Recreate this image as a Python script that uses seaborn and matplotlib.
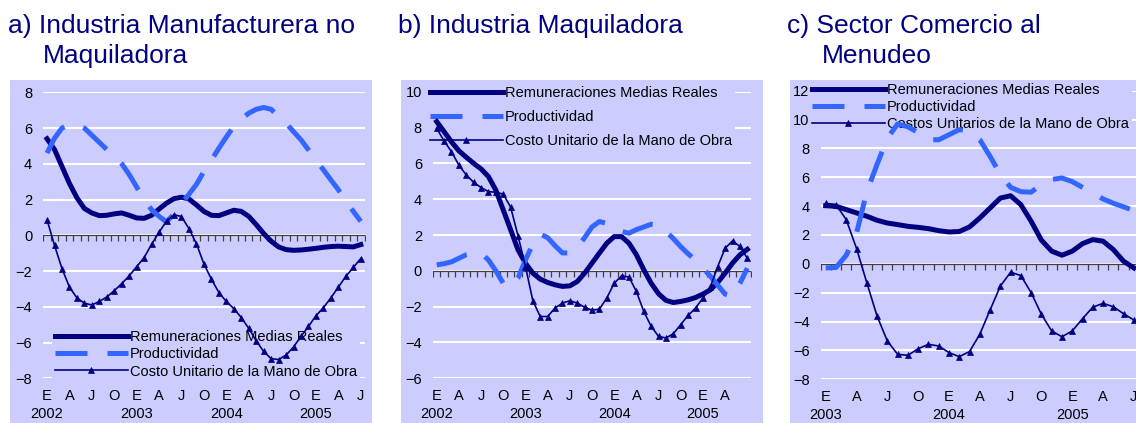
import pandas as pd
import seaborn as sns
import matplotlib.pyplot as plt
from matplotlib.patches import Rectangle

plt.rcParams['font.family'] = ['Liberation Sans', 'DejaVu Sans']

W, H = 1136, 423
navy = '#000080'
blue = '#3366FF'
lav = '#CCCCFF'

meses = ['E', 'A', 'J', 'O']

# a) Industria Manufacturera no Maquiladora, ene 2002 - jul 2005
remun_a = [5.4, 4.8, 3.85, 2.9, 2.1, 1.5, 1.25, 1.1, 1.12, 1.2, 1.25, 1.12, 0.97, 0.95, 1.12,
           1.47, 1.8, 2.05, 2.13, 2.03, 1.7, 1.34, 1.12, 1.1, 1.25, 1.4, 1.34, 1.06, 0.6, 0.1,
           -0.33, -0.65, -0.8, -0.84, -0.82, -0.78, -0.73, -0.67, -0.63, -0.61, -0.63, -0.65, -0.52]
prod_a = [4.6, 5.43, 6.0, 6.2, 6.2, 6.0, 5.6, 5.2, 4.8, 4.45, 4.0, 3.4, 2.7, 2.0, 1.43,
          1.06, 0.75, 1.2, 1.75, 2.3, 2.85, 3.57, 4.2, 4.87, 5.5, 6.1, 6.5, 6.83, 7.05, 7.15,
          7.05, 6.64, 6.27, 5.8, 5.34, 4.78, 4.22, 3.66, 3.1, 2.55, 1.9, 1.34, 0.78]
cumo_a = [0.87, -0.56, -1.86, -2.9, -3.5, -3.8, -3.9, -3.7, -3.45, -3.1, -2.7, -2.27, -1.75,
          -1.25, -0.5, 0.17, 0.8, 1.15, 1.05, 0.37, -0.47, -1.6, -2.45, -3.2, -3.7, -4.1, -4.6,
          -5.2, -5.9, -6.5, -6.9, -6.95, -6.7, -6.25, -5.65, -5.1, -4.5, -4.05, -3.5, -2.9,
          -2.3, -1.8, -1.3]

# b) Industria Maquiladora, ene 2002 - jul 2005
remun_b = [8.33, 7.77, 7.2, 6.7, 6.34, 6.0, 5.69, 5.26, 4.5, 3.4, 2.29, 1.17, 0.43, -0.13,
           -0.46, -0.65, -0.78, -0.87, -0.84, -0.6, -0.13, 0.43, 0.99, 1.54, 1.91, 1.91, 1.54,
           0.9, 0.06, -0.69, -1.28, -1.65, -1.77, -1.71, -1.62, -1.49, -1.3, -1.06, -0.65,
           -0.13, 0.43, 0.89, 1.2]
prod_b = [0.33, 0.4, 0.5, 0.7, 0.9, 1.0, 1.0, 0.6, 0.0, -0.7, -0.9, -0.4, 0.6, 1.5, 2.05,
          1.85, 1.4, 1.0, 1.0, 1.3, 1.85, 2.45, 2.75, 2.65, 2.5, 2.2, 2.1, 2.3, 2.45, 2.6,
          2.56, 2.2, 1.8, 1.35, 0.95, 0.6, 0.15, -0.3, -0.8, -1.3, -1.4, -0.7, 0.15]
cumo_b = [7.95, 7.25, 6.65, 5.9, 5.35, 4.94, 4.65, 4.42, 4.39, 4.28, 3.55, 1.95, 0.24, -1.67,
          -2.55, -2.55, -2.08, -1.8, -1.67, -1.8, -2.03, -2.2, -2.14, -1.52, -0.69, -0.28,
          -0.35, -1.15, -2.27, -3.1, -3.66, -3.75, -3.51, -3.0, -2.49, -2.08, -1.52, -0.91,
          0.24, 1.26, 1.67, 1.36, 0.7]

# c) Sector Comercio al Menudeo, ene 2003 - jul 2005
remun_c = [4.03, 3.99, 3.76, 3.53, 3.3, 3.02, 2.83, 2.72, 2.6, 2.53, 2.44, 2.3, 2.21, 2.24,
           2.56, 3.18, 3.87, 4.56, 4.72, 4.1, 2.95, 1.64, 0.88, 0.6, 0.88, 1.4, 1.68, 1.57,
           0.99, 0.18, -0.28]
prod_c = [-0.28, -0.25, 0.6, 2.14, 5.0, 6.9, 8.7, 9.7, 9.5, 9.1, 8.6, 8.6, 8.95, 9.3, 9.2,
          8.6, 7.45, 6.2, 5.3, 5.0, 4.97, 5.5, 5.85, 5.95, 5.7, 5.3, 4.9, 4.5, 4.2, 3.95, 3.7]
cumo_c = [4.2, 4.1, 3.06, 1.06, -1.31, -3.62, -5.35, -6.27, -6.34, -5.88, -5.58, -5.69, -6.15,
          -6.43, -6.08, -4.88, -3.2, -1.54, -0.58, -0.81, -2.0, -3.5, -4.65, -5.05, -4.65,
          -3.8, -3.0, -2.74, -2.97, -3.46, -3.89]

series_ab = ['Remuneraciones Medias Reales', 'Productividad', 'Costo Unitario de la Mano de Obra']
series_c = ['Remuneraciones Medias Reales', 'Productividad', 'Costos Unitarios de la Mano de Obra']


def fig_box(l, t, r, b):
    return [l / W, 1 - b / H, (r - l) / W, (b - t) / H]


def panel(ax, remun, prod, cumo, names, ylim, n_labels, years, leg_lt, spacing):
    n = len(remun)
    df = pd.DataFrame({'mes': list(range(n)) * 3,
                       'serie': [names[0]] * n + [names[1]] * n + [names[2]] * n,
                       'valor': remun + prod + cumo})
    ax.set_facecolor(lav)
    sns.lineplot(data=df[df.serie == names[0]], x='mes', y='valor', ax=ax, color=navy,
                 lw=3.6, label=names[0], zorder=3)
    sns.lineplot(data=df[df.serie == names[1]], x='mes', y='valor', ax=ax, color=blue,
                 lw=3.6, linestyle=(0, (6.4, 4)), dash_capstyle='butt', label=names[1], zorder=3)
    sns.lineplot(data=df[df.serie == names[2]], x='mes', y='valor', ax=ax, color=navy,
                 lw=1.2, marker='^', markersize=4.5, markeredgecolor=navy,
                 markeredgewidth=0.5, label=names[2], zorder=4)

    # eje de categorias en cero con marcas hacia abajo
    ax.axhline(0, color='#404040', lw=0.9, zorder=2)
    bounds = [i - 0.5 for i in range(n + 1)]
    ax.plot(bounds, [0] * len(bounds), ls='none', marker=3, markersize=4,
            color='#404040', mew=0.9, zorder=2)

    ax.set_xlim(-0.5, n - 0.5)
    ax.set_ylim(*ylim)
    ax.set_yticks(range(ylim[0], ylim[1] + 1, 2))
    pos = list(range(0, 3 * n_labels, 3))
    ax.set_xticks(pos, [meses[i % 4] for i in range(n_labels)])
    ax.tick_params(axis='both', length=0, labelsize=10.5, colors='black')
    ax.tick_params(axis='y', pad=8)
    ax.tick_params(axis='x', pad=7.5)
    for p, yr in years:
        ax.annotate(yr, xy=(p, 0), xycoords=('data', 'axes fraction'), xytext=(0, -25.5),
                    textcoords='offset points', ha='center', va='center', fontsize=10.5)
    ax.grid(axis='y', color='white', lw=1.5)
    ax.grid(axis='x', visible=False)
    ax.set_axisbelow(True)
    for s in ax.spines.values():
        s.set_visible(False)
    ax.set(xlabel='', ylabel='')

    leg = ax.legend(loc='upper left', bbox_to_anchor=(leg_lt[0] / W, 1 - leg_lt[1] / H),
                    bbox_transform=fig.transFigure, borderaxespad=0, borderpad=0.2,
                    handlelength=5.0, handletextpad=0.15, labelspacing=spacing,
                    fontsize=10.5, frameon=True, facecolor=lav, edgecolor='none',
                    framealpha=1, fancybox=False, numpoints=1)
    leg.set_zorder(2.5)


fig = plt.figure(figsize=(W / 100, H / 100), dpi=100)
fig.patch.set_facecolor('white')

for l, r in [(10, 372), (401, 763), (790, 1140)]:
    fig.add_artist(Rectangle((l / W, 0), (r - l) / W, 1 - 80 / H, transform=fig.transFigure,
                             facecolor=lav, edgecolor='none', zorder=-1))

ax_a = fig.add_axes(fig_box(43.3, 92.3, 364.5, 378.3))
ax_b = fig.add_axes(fig_box(433, 91.7, 751, 378.3))
ax_c = fig.add_axes(fig_box(820.6, 90.7, 1139, 379.3))

yrs_ab = [(0, '2002'), (12, '2003'), (24, '2004'), (36, '2005')]
panel(ax_a, remun_a, prod_a, cumo_a, series_ab, (-8, 8), 15, yrs_ab, (52, 327.5), 0.21)
panel(ax_b, remun_b, prod_b, cumo_b, series_ab, (-6, 10), 14, yrs_ab, (427, 83), 0.7)
panel(ax_c, remun_c, prod_c, cumo_c, series_c, (-8, 12), 11,
      [(0, '2003'), (12, '2004'), (24, '2005')], (808.8, 80), 0.2)

tkw = dict(fontsize=19, color=navy, va='baseline', ha='left')
fig.text(8 / W, 1 - 33.3 / H, 'a) Industria Manufacturera no', **tkw)
fig.text(43 / W, 1 - 63.3 / H, 'Maquiladora', **tkw)
fig.text(398 / W, 1 - 33.3 / H, 'b) Industria Maquiladora', **tkw)
fig.text(787.3 / W, 1 - 33.3 / H, 'c) Sector Comercio al', **tkw)
fig.text(821.7 / W, 1 - 63.3 / H, 'Menudeo', **tkw)

fig.savefig('out.png', dpi=100)
